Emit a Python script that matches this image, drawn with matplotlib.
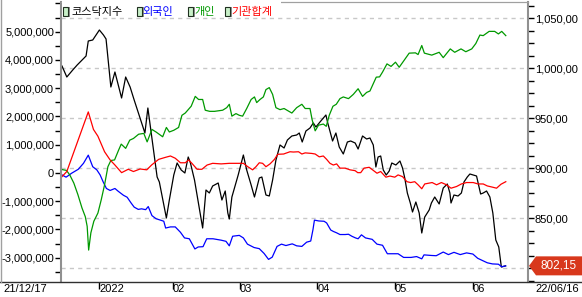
import matplotlib
matplotlib.use("Agg")
import matplotlib.pyplot as plt
from matplotlib.patches import Rectangle, Polygon
from matplotlib.lines import Line2D
from matplotlib.ticker import MultipleLocator, FixedLocator, FuncFormatter
from matplotlib.transforms import ScaledTranslation

# x = trading-day index counted from 2021-12-17
kosdaq_day = [0, 1.3, 2.9, 4.1, 6.5, 7.1, 8.3, 10.1, 11.2, 11.9, 13.2, 14.3, 16.1, 17.2, 18.4, 19.5,
              22.4, 23.2, 25.7, 26.3, 28.2, 29, 30.2, 31.1, 32.2, 33.2, 34.1, 34.7, 35.8, 38, 38.9,
              39.8, 40.7, 42.2, 43.2, 44.1, 44.8, 45.2, 45.9, 47.6, 49, 49.9, 51.1, 52, 53.3, 54,
              55.1, 56, 56.9, 57.8, 58.9, 60, 60.9, 62.1, 63.4, 64.1, 64.9, 65.9, 67, 67.9, 68.6,
              69.7, 71.3, 71.8, 73.1, 74, 74.9, 76, 77.1, 78, 79.2, 80, 81.2, 82.3, 83.2, 84.1,
              84.8, 85.4, 86.1, 86.8, 87.6, 88.4, 89.1, 90.2, 91.3, 92, 92.6, 93.3, 94.1, 94.7,
              95.6, 96.5, 97.2, 98, 99.2, 99.8, 100.7, 101.9, 103, 104.1, 104.8, 105.1, 105.9,
              107, 107.9, 108.6, 109.5, 110.2, 112, 113.1, 113.8, 114.7, 115.6, 116.4, 117.2,
              118, 118.7, 119.8]
kosdaq = [1002, 991, 998, 1003, 1012, 1027, 1028, 1038, 1033, 1029, 981, 996, 970, 991, 981, 968,
          935, 960, 891, 886, 850, 868, 893, 905, 898, 895, 911, 905, 888, 840, 878,
          875, 882, 885, 868, 877, 855, 849, 871, 893, 913, 898, 883, 871, 890, 891,
          873, 872, 888, 908, 923, 920, 928, 932, 933, 935, 926, 937, 940, 945, 941,
          946, 953, 945, 927, 935, 921, 914, 926, 927, 925, 919, 932, 929, 930, 923,
          901, 911, 912, 898, 893, 897, 905, 903, 907, 900, 890, 875, 865, 856,
          866, 855, 835, 851, 858, 865, 871, 864, 880, 884, 875, 865, 873,
          872, 875, 886, 891, 894, 892, 874, 875, 877, 871, 855, 828,
          821, 801, 802.15]

foreign_day = [0, 1.1, 2.6, 4.4, 5.8, 7.1, 8.3, 9.4, 10.3, 11.1, 12, 13, 14.3, 15.2, 16.6, 17.6,
               18.7, 19.5, 20.6, 21.5, 22.6, 23.3, 24.3, 25.4, 26.6, 27.5, 28, 29.3, 30.6, 32,
               33.1, 34.4, 35.9, 36.8, 38.1, 39.1, 40.8, 43, 44.3, 45.2, 46.1, 47.9, 49, 50.1,
               51.9, 53.3, 54.6, 55.8, 56.8, 58.1, 59.3, 60.5, 62.2, 63.4, 64.8, 66.1, 67.2,
               67.8, 68.2, 69.4, 70.8, 71.5, 72.6, 73.3, 74.2, 75.1, 76.5, 77.4, 78.3, 79.3,
               80, 80.9, 82, 83.8, 85.1, 86.6, 87.9, 90.8, 92.3, 94.3, 95.8, 97.2, 97.8, 99.7,
               101.1, 103, 104.4, 105.9, 107.6, 109.3, 111, 112.3, 113.6, 114.9, 116.3, 117.9,
               118.8, 119.9]
foreign = [-0.07, -0.15, -0.01, 0.13, 0.34, 0.63, 0.22, 0.11, -0.07, -0.31, -0.55, -0.62, -0.55,
           -0.65, -0.79, -0.86, -1.07, -1.21, -1.29, -1.27, -1.30, -1.19, -1.51, -1.62, -1.67,
           -1.71, -1.95, -1.91, -1.91, -2.10, -2.30, -2.33, -2.69, -2.62, -2.61, -2.33, -2.33,
           -2.38, -2.42, -2.58, -2.24, -2.21, -2.30, -2.52, -2.64, -2.68, -2.85, -3.06, -2.98,
           -2.60, -2.52, -2.57, -2.51, -2.58, -2.60, -2.45, -2.41, -2.01, -1.67, -1.70, -1.71,
           -1.77, -2.02, -2.07, -2.12, -2.18, -2.18, -2.17, -2.24, -2.30, -2.33, -2.19, -2.30,
           -2.35, -2.52, -2.56, -2.86, -2.86, -2.99, -2.99, -2.96, -3.04, -2.90, -2.92, -2.93,
           -2.80, -2.89, -2.81, -2.89, -2.83, -2.87, -3.02, -3.10, -3.18, -3.22, -3.23, -3.32,
           -3.29]

retail_day = [0, 1.2, 2.1, 3.2, 4.3, 5.4, 6.3, 6.8, 7.2, 7.8, 8.6, 9.7, 10.6, 11.5, 12.4, 13.2,
              14.2, 15.3, 16, 17.2, 18.3, 19.3, 20.7, 22.1, 23, 24.3, 25.4, 27.2, 28.2, 29, 30.2,
              31.5, 32.4, 33.3, 34.9, 36, 36.9, 38, 38.7, 39.9, 41.2, 43.4, 44.5, 45.2, 45.9, 47,
              47.9, 48.8, 49.9, 51.1, 52, 52.6, 53.5, 54.4, 55.1, 56, 56.9, 57.8, 58.9, 60, 62.1,
              63.4, 64.8, 65.7, 67, 67.6, 68.4, 69.3, 70.6, 71.4, 72.2, 73.2, 74.1, 75.1, 76,
              77.4, 78.7, 80, 81.2, 82.3, 83.2, 84.9, 85.8, 86.6, 87.8, 88.9, 90.1, 91.1, 92.4,
              93.8, 95.5, 96.2, 97.2, 97.9, 99.9, 101.9, 103, 104.9, 106.1, 107.8, 109.1, 110.7,
              111.8, 112.9, 113.8, 115.4, 116.9, 117.9, 118.8, 119.9]
retail = [0.12, 0.09, -0.07, -0.36, -0.77, -1.24, -1.55, -1.89, -2.73, -2.12, -1.71, -1.42, -0.95,
          -0.42, 0.22, 0.44, 0.46, 0.81, 1.02, 0.87, 1.16, 1.22, 1.37, 1.40, 1.10, 1.54, 1.45,
          1.28, 1.61, 1.45, 1.51, 1.61, 2.04, 2.12, 2.36, 2.71, 2.60, 2.60, 2.22, 2.18, 2.18,
          2.22, 2.31, 2.43, 2.01, 2.10, 2.04, 2.01, 2.28, 2.60, 2.69, 2.49, 2.60, 2.69, 2.95,
          3.02, 2.78, 2.31, 2.24, 2.28, 2.12, 2.31, 2.43, 2.28, 2.28, 1.87, 1.49, 1.69, 1.73,
          1.65, 2.04, 2.36, 2.43, 2.63, 2.69, 2.63, 2.78, 2.98, 2.71, 2.85, 2.90, 3.39, 3.40,
          3.57, 3.86, 3.77, 3.92, 3.74, 3.98, 4.24, 4.25, 4.19, 4.51, 4.24, 4.17, 4.27, 4.08,
          4.39, 4.27, 4.39, 4.29, 4.39, 4.58, 4.88, 4.86, 5.01, 5.01, 4.92, 5.01, 4.86]

inst_day = [0, 1.3, 7.1, 8.5, 9.7, 11.5, 13, 14.3, 16.1, 17.9, 19.3, 21.1, 22.9, 24.2, 26.1, 27.9,
            29.3, 30.6, 32, 33.3, 34.2, 35.1, 36.5, 37.8, 39.2, 40.7, 43, 45.2, 47.9, 49, 50.2,
            51.5, 52.4, 53.3, 54.2, 55.1, 56.2, 57.4, 58.3, 59.9, 60.3, 61.6, 62.5, 63.9, 64.8,
            65.7, 67.5, 68.4, 69.5, 70.6, 71.5, 72.4, 73.3, 74.2, 75.1, 76.5, 77.8, 79.2, 79.9,
            80.7, 81.6, 83, 83.9, 85.1, 86.1, 87.5, 88.6, 89.9, 90.8, 92, 93.2, 94.2, 95.3, 96.2,
            97.2, 98, 99.2, 100, 101.2, 102.5, 103.9, 105.1, 106.6, 107.9, 109.3, 111.1, 112.4,
            113.8, 114.9, 116.2, 117.4, 118.6, 119.9]
inst = [-0.13, 0.05, 2.16, 1.54, 1.30, 0.75, 0.46, 0.28, 0.01, 0.13, 0.05, 0.14, 0.11, 0.28, 0.48,
        0.55, 0.60, 0.52, 0.36, 0.36, 0.46, 0.34, 0.13, 0.13, 0.28, 0.34, 0.32, 0.34, 0.34, 0.34,
        0.22, 0.11, 0.22, 0.36, 0.34, 0.22, 0.32, 0.48, 0.66, 0.67, 0.69, 0.75, 0.74, 0.75, 0.67,
        0.71, 0.69, 0.67, 0.57, 0.60, 0.48, 0.34, 0.28, 0.32, 0.17, 0.17, 0.11, 0.08, 0.01,
        0.01, 0.17, 0.20, 0.11, -0.01, 0.05, -0.15, -0.11, -0.15, -0.07, -0.13, -0.31, -0.34,
        -0.31, -0.42, -0.56, -0.39, -0.36, -0.34, -0.42, -0.34, -0.42, -0.54, -0.48, -0.39,
        -0.34, -0.34, -0.39, -0.39, -0.46, -0.50, -0.54, -0.40, -0.31]

month_ticks = [10, 30, 48, 69, 90, 111]
month_labels = ["2022", "02", "03", "04", "05", "06"]
first_date = "21/12/17"
last_date = "22/06/16"
flow_ticks = [-3, -2, -1, 0, 1, 2, 3, 4, 5]          # millions
index_ticks = [800, 850, 900, 950, 1000, 1050]
series_names = ["코스닥지수", "외국인", "개인", "기관합계"]
series_colors = ["black", "#0000ff", "#009900", "#ff0000"]

W, H = 582, 297
plt.rcParams["font.family"] = ["Liberation Sans", "Noto Sans CJK KR"]
plt.rcParams["font.size"] = 8


def fx(px):
    return px / W


def fy(py):
    return 1 - py / H


fig = plt.figure(figsize=(W / 100, H / 100), dpi=100)
ax2 = fig.add_axes([fx(61), fy(282), fx(528) - fx(61), fy(2) - fy(282)])
ax = ax2.twinx()
ax.yaxis.tick_left()
ax2.yaxis.tick_right()

ax2.plot(kosdaq_day, kosdaq, color=series_colors[0], lw=0.9)
ax.plot(foreign_day, foreign, color=series_colors[1], lw=0.9)
ax.plot(retail_day, retail, color=series_colors[2], lw=0.9)
ax.plot(inst_day, inst, color=series_colors[3], lw=0.9)

ax2.set_xlim(-0.27, 125.9)
ax2.set_ylim(786, 1066)
ax.set_ylim(-3.86, 6.05)

ax2.grid(axis="y", which="major", linestyle=(0, (3, 3)), color="#c8c8c8", lw=1)

ax.yaxis.set_major_locator(FixedLocator(flow_ticks))
ax.yaxis.set_minor_locator(MultipleLocator(0.5))
ax.yaxis.set_major_formatter(FuncFormatter(lambda v, p: f"{int(round(v * 1e6)):,}"))
ax.tick_params(axis="y", which="both", direction="out", length=4, width=1, pad=1)

# the lowest grid level carries no label: the last-value tag sits there
ax2.yaxis.set_major_locator(FixedLocator(index_ticks))
ax2.yaxis.set_minor_locator(MultipleLocator(12.5))
ax2.yaxis.set_major_formatter(FuncFormatter(
    lambda v, p: "" if v == index_ticks[0] else f"{v:,.2f}".replace(".", ",")))
ax2.tick_params(axis="y", which="both", direction="out", length=4, width=1, pad=1)

ax2.set_xticks(month_ticks)
ax2.set_xticklabels(month_labels)
shift = ScaledTranslation(0.02, 0, fig.dpi_scale_trans)
for lbl in ax2.get_xticklabels():
    lbl.set_ha("left")
    lbl.set_transform(lbl.get_transform() + shift)
ax2.tick_params(axis="x", direction="out", length=5, width=1, pad=-3.5)

for a in (ax, ax2):
    a.spines["bottom"].set_visible(False)
    a.spines["top"].set_color("#a0a0a0")
ax.spines["right"].set_visible(False)
ax2.spines["left"].set_visible(False)
ax.spines["left"].set_color("#909090")
ax.spines["left"].set_linewidth(1.5)
ax2.spines["right"].set_color("#909090")
ax2.spines["right"].set_linewidth(1.5)

# frame lines around the chart area
fig.add_artist(Line2D([fx(0), fx(W)], [fy(282), fy(282)], color="#303030", lw=1, zorder=6))
fig.add_artist(Line2D([fx(1), fx(1)], [fy(0), fy(282)], color="#a0a0a0", lw=1, zorder=6))

fig.text(fx(3), fy(284), first_date, ha="left", va="top")
fig.text(fx(535), fy(284), last_date, ha="left", va="top")

# legend strip
fig.add_artist(Rectangle((fx(61.5), fy(16)), fx(281) - fx(61.5), fy(0) - fy(16),
                         facecolor="white", edgecolor="none", zorder=7))
icon_x = [63, 137, 188, 225]
text_x = [71, 142, 194, 231]
for ix, tx, name, col in zip(icon_x, text_x, series_names, series_colors):
    fig.add_artist(Rectangle((fx(ix + 1.5), fy(17)), fx(5) - fx(0), fy(0) - fy(10),
                             facecolor="#909090", edgecolor="none", zorder=8))
    fig.add_artist(Rectangle((fx(ix), fy(15.5)), fx(4.5) - fx(0), fy(0) - fy(9),
                             facecolor="#c8f0c8", edgecolor="#203020", lw=0.8, zorder=9))
    fig.text(fx(tx), fy(12), name, color=col, ha="left", va="center",
             family=["Noto Sans CJK KR", "DejaVu Sans"], fontsize=8, zorder=9)

# last value tag
fig.canvas.draw()
ty = ax2.transData.transform((0, kosdaq[-1]))[1]
tag_y = H - ty
pts = [(529, tag_y), (536, tag_y - 9.5), (582, tag_y - 9.5), (582, tag_y + 9.5), (536, tag_y + 9.5)]
fig.add_artist(Polygon([(fx(px), fy(py)) for px, py in pts], closed=True,
                       facecolor="#d8381c", edgecolor="none", zorder=8))
fig.text(fx(559), fy(tag_y), f"{kosdaq[-1]:.2f}".replace(".", ","), color="white",
         ha="center", va="center", fontsize=8.5, zorder=9)

fig.savefig("out.png", dpi=100)
